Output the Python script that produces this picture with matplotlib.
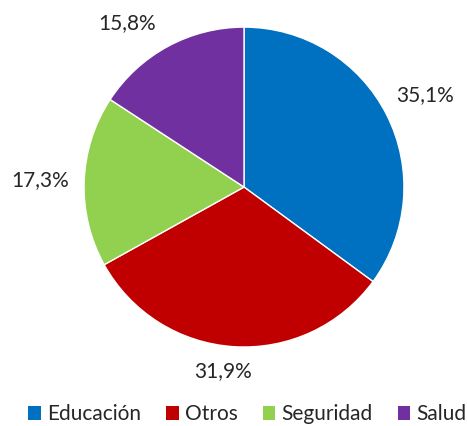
import matplotlib
matplotlib.use("Agg")
import matplotlib.pyplot as plt
from matplotlib.patches import Patch
import numpy as np

categories = ["Educación", "Otros", "Seguridad", "Salud"]
values = [35.1, 31.9, 17.3, 15.8]
labels = ["35,1%", "31,9%", "17,3%", "15,8%"]
colors = ["#0070C0", "#C00000", "#92D050", "#7030A0"]

plt.rcParams['font.family'] = ['Lato', 'DejaVu Sans']

fig = plt.figure(figsize=(4.67, 4.26), dpi=100)
ax = fig.add_axes([0.18, 0.1854, 0.685, 0.751])
wedges, _ = ax.pie(values, colors=colors, startangle=90, counterclock=False,
                   wedgeprops=dict(edgecolor='white', linewidth=1.0))
label_dist = [1.27, 1.16, 1.275, 1.26]
label_shift = [0, -3, 0, 7]
for w, lab, dist, sh in zip(wedges, labels, label_dist, label_shift):
    ang = np.deg2rad((w.theta1 + w.theta2) / 2 + sh)
    ax.text(dist * np.cos(ang), dist * np.sin(ang), lab, ha='center', va='center',
            fontsize=15, color='#262626')
ax.set_xlim(-1, 1)
ax.set_ylim(-1, 1)
ax.set_aspect('equal')
ax.axis('off')

handles = [Patch(facecolor=c, edgecolor='none') for c in colors]
fig.legend(handles, categories, loc='lower center', ncol=4, frameon=False,
           fontsize=15, handlelength=0.6, handleheight=0.6, handletextpad=0.3,
           columnspacing=1.2, bbox_to_anchor=(0.53, -0.04), labelcolor='#262626')
fig.savefig("out.png", dpi=100)
